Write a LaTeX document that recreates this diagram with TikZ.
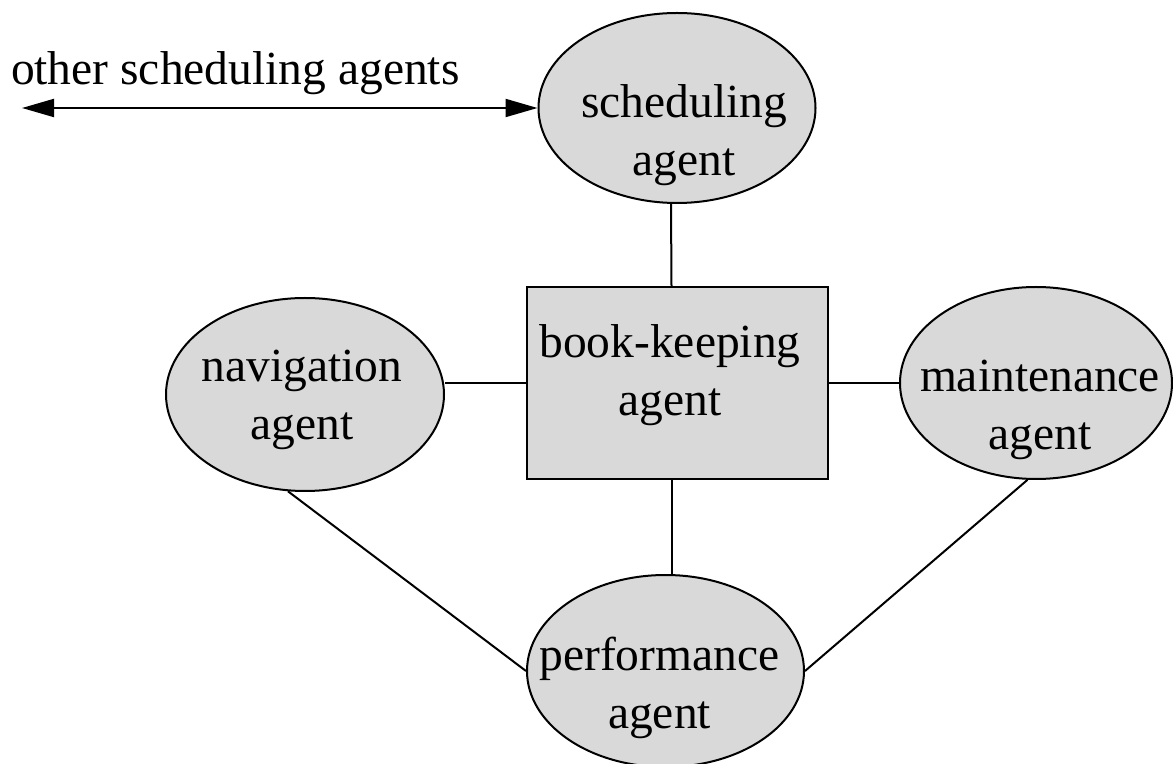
\documentclass[tikz,border=0pt]{standalone}
\usepackage{fontspec}
\setmainfont{Liberation Serif}
\usetikzlibrary{shapes.geometric,arrows.meta}
\definecolor{agentgray}{RGB}{217,217,217}

\begin{document}
\begin{tikzpicture}[
x=0.5pt,y=-0.5pt,
line width=1pt,
agent/.style={
    ellipse,
    draw,
    fill=agentgray,
    inner sep=0pt
    },
bkbox/.style={
    rectangle,
    draw,
    fill=agentgray,
    inner sep=0pt,
    minimum width=150.5pt,
    minimum height=96pt
    },
lbl/.style={
    align=center,
    inner sep=0pt,
    font=\fontsize{23.75}{29}\selectfont
    },
dblarrow/.style={
    {Triangle[length=16pt,width=9pt]}-{Triangle[length=16pt,width=9pt]}
    },
]
\useasboundingbox (0,0) rectangle (1173,764);

% agents
\node[agent,minimum width=138.5pt,minimum height=95pt] (sched) at (677,108) {};
\node[agent,minimum width=139pt,minimum height=96.5pt] (nav) at (305,394.5) {};
\node[agent,minimum width=136pt,minimum height=96pt] (maint) at (1036,383) {};
\node[agent,minimum width=138.5pt,minimum height=96pt] (perf) at (665.5,671) {};
\node[bkbox] (bk) at (677.5,383) {};

% labels
\node[lbl] (schedtxt) at (684,135) {scheduling\\agent};
\node[lbl] (navtxt) at (302,400) {navigation\\agent};
\node[lbl] (bktxt) at (670,375) {book-keeping\\agent};
\node[lbl] (mainttxt) at (1040,410) {maintenance\\agent};
\node[lbl] (perftxt) at (659.5,687.5) {performance\\agent};
\node[lbl,anchor=base west] (othertxt) at (10,85) {other scheduling agents};

% connections
\coordinate (others) at (22,108);
\draw[dblarrow] (others) -- (sched.west);
\draw ([xshift=-3pt]sched.south) -- ([xshift=-3pt]bk.north);
\draw ([xshift=-3pt]bk.south) -- ([xshift=-3pt]bk.south |- perf.north);
\draw (nav.east |- bk.west) -- (bk.west);
\draw (bk.east) -- (maint.west);
\draw (nav.260) -- (perf.west);
\draw (maint.265) -- (perf.east);
\end{tikzpicture}
\end{document}
